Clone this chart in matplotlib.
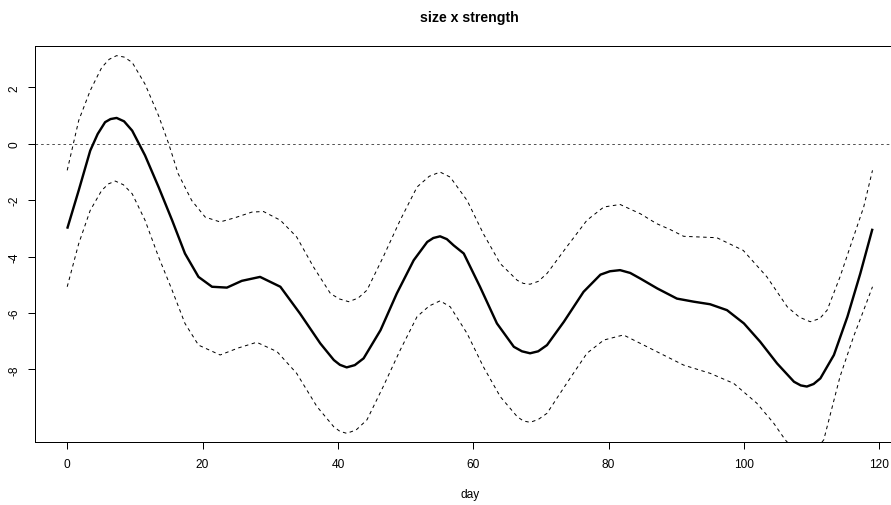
import matplotlib
matplotlib.use("Agg")
import matplotlib.pyplot as plt

plt.rcParams['font.family'] = ['Liberation Sans', 'DejaVu Sans']
plt.rcParams['lines.scale_dashes'] = False

# ---- data ----
main_x = [0, 1.7, 3.4, 4.5, 5.6, 6.4, 7.3, 8.4, 9.6, 11.5, 13.5, 15.5, 17.4, 19.4, 21.4,
          23.6, 25.8, 28.5, 31.5, 34.4, 37.4, 39.4, 40.3, 41.3, 42.5, 43.8, 46.3, 48.7,
          51.2, 53.2, 54.1, 55.1, 56.1, 57.1, 58.6, 61.0, 63.5, 66.0, 67.2, 68.4, 69.6,
          70.9, 73.4, 76.3, 78.8, 80.2, 81.7, 83.2, 84.7, 87.2, 90.1, 92.6, 95.0, 97.5,
          100.0, 102.4, 104.9, 107.4, 108.4, 109.3, 110.3, 111.3, 113.3, 115.3, 117.2,
          119.0]
main_y = [-3.01, -1.65, -0.24, 0.35, 0.77, 0.88, 0.92, 0.80, 0.47, -0.41, -1.53, -2.71,
          -3.89, -4.72, -5.07, -5.10, -4.86, -4.72, -5.07, -6.02, -7.08, -7.67, -7.84,
          -7.93, -7.85, -7.61, -6.61, -5.31, -4.13, -3.48, -3.34, -3.28, -3.38, -3.60,
          -3.89, -5.07, -6.37, -7.20, -7.36, -7.43, -7.36, -7.14, -6.31, -5.25, -4.64,
          -4.52, -4.48, -4.58, -4.78, -5.13, -5.49, -5.60, -5.69, -5.90, -6.37, -7.02,
          -7.79, -8.44, -8.57, -8.61, -8.52, -8.32, -7.49, -6.13, -4.60, -3.01]

upper_x = [0, 1.7, 3.4, 5.1, 6.2, 7.3, 8.4, 9.6, 11.5, 13.5, 15.0, 16.4, 18.4, 20.4, 22.6,
           24.8, 27.3, 29.0, 31.5, 33.9, 36.4, 38.9, 40.2, 41.6, 43.0, 44.3, 46.7, 49.2,
           51.7, 53.5, 55.1, 56.6, 59.1, 61.5, 64.0, 66.5, 67.4, 68.4, 69.6, 70.9, 73.8,
           76.8, 79.3, 81.7, 84.7, 87.1, 89.1, 91.1, 96.0, 99.9, 103.4, 106.4, 108.2,
           109.8, 111.2, 112.3, 114.2, 116.2, 117.7, 119.0]
upper_y = [-0.94, 0.83, 1.89, 2.71, 3.00, 3.13, 3.08, 2.89, 2.12, 1.00, 0.00, -1.06,
           -2.01, -2.60, -2.77, -2.62, -2.42, -2.40, -2.71, -3.30, -4.37, -5.31, -5.50,
           -5.60, -5.47, -5.19, -4.01, -2.71, -1.53, -1.15, -1.00, -1.18, -2.01, -3.19,
           -4.25, -4.84, -4.95, -4.98, -4.88, -4.60, -3.66, -2.71, -2.24, -2.15, -2.48,
           -2.83, -3.04, -3.28, -3.33, -3.78, -4.72, -5.78, -6.15, -6.31, -6.20, -5.90,
           -4.72, -3.30, -2.24, -0.94]

lower_x = [0, 1.7, 3.4, 5.1, 6.1, 7.1, 8.3, 9.6, 11.5, 13.5, 15.5, 17.4, 19.4, 22.6, 25.3,
           28.0, 31.0, 33.9, 36.9, 39.4, 40.3, 41.3, 42.7, 44.3, 46.7, 49.2, 51.7, 53.5,
           55.1, 56.6, 59.1, 61.5, 64.0, 66.5, 67.4, 68.4, 69.6, 70.9, 73.8, 76.8, 79.3,
           82.2, 85.2, 87.6, 91.1, 95.0, 98.5, 101.9, 104.4, 106.1, 108.0, 110.0, 111.8,
           114.2, 116.2, 117.7, 119.0]
lower_y = [-5.07, -3.54, -2.36, -1.65, -1.42, -1.32, -1.45, -1.77, -2.71, -4.01, -5.19,
           -6.37, -7.14, -7.49, -7.24, -7.04, -7.37, -8.14, -9.32, -10.04, -10.20, -10.27,
           -10.15, -9.79, -8.61, -7.32, -6.13, -5.75, -5.57, -5.78, -6.73, -7.91, -8.97,
           -9.68, -9.83, -9.88, -9.78, -9.56, -8.50, -7.43, -6.96, -6.78, -7.14, -7.43,
           -7.85, -8.14, -8.50, -9.20, -9.91, -10.50, -11.00, -11.05, -10.50, -8.26,
           -6.84, -5.90, -5.07]

x_ticks = [0, 20, 40, 60, 80, 100, 120]
y_ticks = [2, 0, -2, -4, -6, -8]
title = "size x strength"
x_label = "day"

# ---- figure ----
W, H = 891, 506
DPI = 100
fig = plt.figure(figsize=(W / DPI, H / DPI), dpi=DPI)
px = 72.0 / DPI  # points per pixel

x0, x1 = 35, 904.7
y0, y1 = 46.5, 442.5
ax = fig.add_axes([x0 / W, 1 - y1 / H, (x1 - x0) / W, (y1 - y0) / H])
ax.set_xlim(-4.76, 123.76)
ax.set_ylim(-10.56, 3.49)

ax.axhline(0, color='#555555', lw=1.0 * px, linestyle=(0, (2.6 * px, 3.0 * px)))
ax.plot(upper_x, upper_y, color='black', lw=1.0 * px, linestyle=(0, (3.5 * px, 3.5 * px)))
ax.plot(lower_x, lower_y, color='black', lw=1.0 * px, linestyle=(0, (3.5 * px, 3.5 * px)))
ax.plot(main_x, main_y, color='black', lw=2.4 * px, solid_joinstyle='round',
        solid_capstyle='butt')

for s in ax.spines.values():
    s.set_linewidth(1.0 * px)
    s.set_color('black')

ax.set_xticks(x_ticks)
ax.set_xticklabels([str(t) for t in x_ticks])
ax.set_yticks(y_ticks)
ax.set_yticklabels([str(t) for t in y_ticks], rotation=90, va='center')
ax.tick_params(axis='both', direction='out', length=7 * px, width=1.0 * px,
               labelsize=8.6, colors='black')
ax.tick_params(axis='x', pad=10 * px)
ax.tick_params(axis='y', pad=8 * px)

fig.text((x0 + x1) / 2 / W, 1 - 18 / H, title, ha='center', va='center',
         fontsize=10.2, fontweight='bold')
fig.text((x0 + x1) / 2 / W, 1 - 495 / H, x_label, ha='center', va='center',
         fontsize=8.6)

fig.savefig("out.png", dpi=DPI)
